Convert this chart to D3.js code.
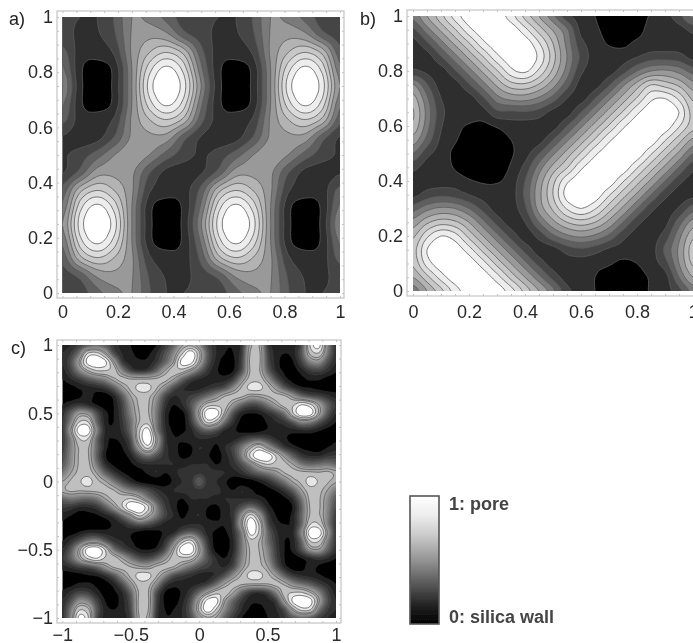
<!DOCTYPE html>
<html>
<head>
<meta charset="utf-8">
<script src="https://cdn.jsdelivr.net/npm/d3@7"></script>
<style>
body { margin: 0; background: #fff; }
svg { display: block; font-family: "Liberation Sans", Arial, sans-serif; }
.tick text { fill: #2a2a2a; font-size: 18px; }
.panelLabel { fill: #222; font-size: 18px; }
.barLabel { fill: #444; font-size: 18px; font-weight: bold; }
</style>
</head>
<body>
<script>
// Grey level at each grid node, in percent, top row first.
// a: 17 x 17 nodes, x and y from 0 to 1
var gridA = [
[20,18,18,28,45,42,33,22,20,18,18,28,45,42,33,22,20],
[22,16,17,26,46,52,47,30,22,16,17,26,46,52,47,30,22],
[30,14,13,20,47,63,72,60,30,14,13,20,47,63,72,60,30],
[38,11,5,12,45,78,94,78,38,11,5,12,45,78,94,78,38],
[45,12,3,12,45,86,100,86,45,12,3,12,45,86,100,86,45],
[38,11,5,12,45,78,94,78,38,11,5,12,45,78,94,78,38],
[30,14,13,20,47,63,72,60,30,14,13,20,47,63,72,60,30],
[17,13,15,28,47,52,50,30,17,13,15,28,47,52,50,30,17],
[17,22,32,45,52,45,32,22,17,22,32,45,52,45,32,22,17],
[17,30,50,52,47,28,15,13,17,30,50,52,47,28,15,13,17],
[30,60,72,63,47,20,13,14,30,60,72,63,47,20,13,14,30],
[38,78,94,78,45,12,5,11,38,78,94,78,45,12,5,11,38],
[45,86,100,86,45,12,3,12,45,86,100,86,45,12,3,12,45],
[38,78,94,78,45,12,5,11,38,78,94,78,45,12,5,11,38],
[30,60,72,63,47,20,13,14,30,60,72,63,47,20,13,14,30],
[22,30,47,52,46,26,17,16,22,30,47,52,46,26,17,16,22],
[20,22,33,42,45,28,18,18,20,22,33,42,45,28,18,18,20]
];

// b: 21 x 21 nodes, x and y from 0 to 1
var gridB = [
[39,55,70,86,97,99,97,86,70,55,39,21,14,9,4,3,5,10,14,24,39],
[25,41,57,72,88,97,99,97,85,69,54,38,15,11,5,4,6,12,14,14,21],
[14,25,41,57,72,88,97,99,97,83,64,42,21,14,8,7,11,13,14,14,14],
[14,14,26,41,57,72,88,97,99,89,68,45,25,14,14,14,18,23,23,22,15],
[20,16,14,26,41,57,72,88,93,80,62,41,20,14,14,23,36,45,47,42,32],
[46,28,14,14,26,41,57,69,71,63,49,31,14,14,26,43,59,73,69,62,49],
[59,38,18,14,14,25,41,48,49,43,32,18,14,27,43,59,74,89,91,80,62],
[65,42,21,14,14,14,25,25,26,23,15,14,27,43,59,74,89,97,99,91,69],
[62,40,19,12,8,7,10,14,14,14,14,27,43,59,74,89,97,99,97,83,68],
[51,33,16,10,5,4,5,9,13,14,27,43,59,74,89,97,99,97,83,68,53],
[36,21,14,7,4,3,4,8,14,27,43,59,74,89,97,99,97,83,68,53,36],
[21,14,14,8,4,3,5,10,21,40,58,72,89,97,99,97,83,68,53,36,21],
[14,14,14,14,10,8,8,13,27,49,70,89,97,99,97,83,68,53,36,21,14],
[15,22,25,23,18,14,14,14,29,52,73,95,99,97,83,68,53,36,21,14,15],
[32,42,47,45,36,24,14,14,25,49,66,83,91,83,68,53,36,21,14,19,32],
[49,62,69,66,55,39,24,14,18,36,52,64,69,64,52,36,21,14,15,32,49],
[62,80,91,86,70,55,39,24,14,21,34,43,47,43,34,21,14,14,22,42,62],
[69,91,99,97,86,70,55,39,24,14,14,22,25,22,16,14,14,14,29,47,69],
[66,86,97,99,97,86,70,55,39,24,14,14,14,12,10,7,9,14,23,45,66],
[55,70,86,97,99,97,86,70,55,39,24,14,13,9,5,4,6,10,14,36,55],
[39,55,70,86,97,99,97,86,70,55,39,21,14,9,4,3,5,10,14,24,39]
];

// c: 33 x 33 nodes, x and y from -1 to 1
var gridC = [
[8,10,16,25,30,25,14,8,5,3,2,5,14,28,48,55,42,20,10,6,6,14,55,58,16,8,6,8,22,75,92,40,12],
[10,16,35,74,78,55,22,10,6,4,4,10,22,40,70,98,62,25,10,5,5,16,60,62,20,8,5,8,25,62,70,35,12],
[10,22,52,92,100,90,52,16,8,6,7,14,28,50,92,92,55,22,8,3,4,18,62,62,22,8,3,5,18,38,42,22,10],
[8,18,38,58,72,72,66,38,18,12,15,28,50,66,66,50,30,14,6,3,5,22,60,60,28,10,4,3,8,16,18,12,6],
[5,10,16,25,32,40,55,62,58,58,58,60,62,50,30,16,10,8,8,8,16,42,64,66,45,22,8,3,4,6,6,3,2],
[2,3,6,8,10,14,26,46,62,78,78,60,42,22,12,8,8,12,16,22,40,60,78,78,62,44,24,12,6,5,3,2,2],
[2,2,4,8,3,2,8,25,50,62,62,45,20,10,12,16,22,32,44,58,62,60,50,52,58,62,60,45,30,22,18,12,8],
[5,10,14,10,5,2,5,18,42,60,60,38,14,5,10,22,42,65,68,64,45,28,20,22,34,50,65,70,85,75,50,28,14],
[12,28,48,45,22,7,5,16,38,58,60,35,10,3,3,18,55,98,95,55,22,8,5,6,12,20,35,72,100,94,55,25,10],
[14,38,72,72,30,8,5,14,32,58,66,35,10,2,2,14,42,78,65,32,12,3,1,2,6,10,14,26,42,38,24,12,5],
[14,50,95,96,42,10,6,12,30,70,92,38,12,4,4,8,20,28,22,10,6,3,1,3,6,8,8,8,10,10,6,3,3],
[14,38,72,72,30,8,5,8,22,70,100,55,14,6,6,8,10,10,8,6,8,14,22,24,18,10,6,3,2,1,1,2,4],
[16,38,60,60,30,8,3,5,16,50,78,45,14,8,3,4,10,8,4,10,18,35,55,74,50,30,14,8,4,3,2,5,8],
[20,40,60,60,28,6,2,3,8,22,32,22,12,8,4,5,10,6,2,8,16,38,76,100,98,70,45,26,14,10,10,14,16],
[25,42,60,62,35,12,4,2,4,8,10,10,10,10,8,10,10,10,5,8,12,22,38,60,72,66,62,50,35,30,32,35,30],
[35,50,62,65,50,28,14,6,3,3,6,10,5,8,12,12,14,12,12,10,8,12,20,28,35,45,58,62,62,62,60,62,55],
[50,60,70,80,62,52,35,20,10,4,2,2,2,6,10,12,26,12,10,6,2,2,2,6,12,22,35,52,62,80,70,60,52],
[55,62,60,62,62,62,58,45,35,28,20,12,8,10,12,12,14,12,12,8,5,10,6,3,3,6,14,28,50,65,62,50,35],
[30,35,32,30,35,50,62,66,72,60,38,22,12,8,5,10,10,10,8,10,10,10,10,8,4,2,4,12,35,62,60,42,25],
[16,14,10,10,14,26,45,70,98,100,76,38,16,8,2,6,10,5,4,8,12,22,32,22,8,3,2,6,28,60,60,40,20],
[8,5,2,3,4,8,14,30,50,74,55,35,18,10,4,8,10,4,3,8,14,45,78,50,16,5,3,8,30,60,60,38,16],
[4,2,1,1,2,3,6,10,18,24,22,14,8,6,8,10,10,8,6,6,14,55,100,70,22,8,5,8,30,72,72,38,14],
[3,3,6,10,10,8,8,8,6,3,1,3,6,10,22,28,20,8,4,4,12,38,92,70,30,12,6,10,42,96,95,50,14],
[5,12,24,38,42,26,14,10,6,2,1,3,12,32,65,78,42,14,2,2,10,35,66,58,32,14,5,8,30,72,72,38,14],
[10,25,55,94,100,72,35,20,12,6,5,8,22,55,95,98,55,18,3,3,10,35,60,58,38,16,5,7,22,45,48,28,12],
[14,28,50,75,85,70,65,50,34,22,20,28,45,64,68,65,42,22,10,5,14,38,60,60,42,18,5,2,5,10,14,10,5],
[8,12,18,22,30,45,60,62,58,52,50,60,62,58,44,32,22,16,12,10,20,45,62,62,50,25,8,2,3,8,4,2,2],
[2,2,3,5,6,12,24,44,62,78,78,60,40,22,16,12,8,8,12,22,42,60,78,78,62,46,26,14,10,8,6,3,2],
[2,3,6,6,4,3,8,22,45,66,64,42,16,8,8,8,10,16,30,50,62,60,58,58,58,62,55,40,32,25,16,10,5],
[6,12,18,16,8,3,4,10,28,60,60,22,5,3,6,14,30,50,66,66,50,28,15,12,18,38,66,72,72,58,38,18,8],
[10,22,42,38,18,5,3,8,22,62,62,18,4,3,8,22,55,92,92,50,28,14,7,6,8,16,52,90,100,92,52,22,10],
[12,35,70,62,25,8,5,8,20,62,60,16,5,5,10,25,62,98,70,40,22,10,4,4,6,10,22,55,78,74,35,16,10],
[12,40,92,75,22,8,6,8,16,58,55,14,6,6,10,20,42,55,48,28,14,5,2,3,5,8,14,25,30,25,16,10,8]
];

var ticksUnit = [0, 0.2, 0.4, 0.6, 0.8, 1];
var minorUnit = d3.range(0, 1.0001, 0.05);
var ticksWide = [-1, -0.5, 0, 0.5, 1];
var minorWide = d3.range(-1, 1.0001, 0.1);

// contour levels (percent) and the grey above each of them
var levelsAB = [9, 18, 27, 36, 45, 55, 64, 73, 82, 91];
var greysAB = [0.18, 0.27, 0.37, 0.48, 0.6, 0.7, 0.78, 0.86, 0.93, 1];
var levelsC = [5, 10, 15, 20, 25, 30, 35, 40, 45, 50, 58, 72, 85];
var greysC = [0.13, 0.2, 0.26, 0.32, 0.38, 0.44, 0.5, 0.56, 0.62, 0.68, 0.75, 0.9, 1];
var linedC = [50, 58, 72, 85];

var barStops = [0, 0.15, 0.3, 0.5, 0.7, 0.85, 1];
var barGreys = [1, 0.93, 0.8, 0.58, 0.33, 0.14, 0];

var width = 693, height = 643;
var refineBy = 4;

var svg = d3.select("body").append("svg")
    .attr("width", width)
    .attr("height", height);

var defs = svg.append("defs");
defs.append("filter").attr("id", "soft")
    .append("feGaussianBlur").attr("stdDeviation", 0.45);

function grey(v) {
    return d3.rgb(v * 255, v * 255, v * 255).formatHex();
}

// the contour surface between nodes, so the level lines come out round
function cubic(a, b, c, d, t) {
    return b + 0.5 * t * (c - a + t * (2 * a - 5 * b + 4 * c - d + t * (3 * (b - c) + d - a)));
}

function refine(grid, k) {
    var n = grid.length, m = (n - 1) * k + 1, out = [];
    function at(r, c) {
        return grid[Math.max(0, Math.min(n - 1, r))][Math.max(0, Math.min(n - 1, c))];
    }
    for (var i = 0; i < m; i++) {
        var r = Math.floor(i / k), tr = i / k - r;
        for (var j = 0; j < m; j++) {
            var c = Math.floor(j / k), tc = j / k - c, col = [];
            for (var q = -1; q <= 2; q++) {
                col.push(cubic(at(r + q, c - 1), at(r + q, c), at(r + q, c + 1), at(r + q, c + 2), tc));
            }
            out.push(cubic(col[0], col[1], col[2], col[3], tr));
        }
    }
    return { values: out, size: m };
}

function drawPanel(id, grid, conf) {
    var fine = refine(grid, refineBy);
    var n = fine.size;
    // node i sits at contour coordinate i + 0.5
    var px = d3.scaleLinear().domain([0.5, n - 0.5]).range([conf.left, conf.right]);
    var py = d3.scaleLinear().domain([0.5, n - 0.5]).range([conf.top, conf.bottom]);
    var x = d3.scaleLinear().domain(conf.domain).range([conf.left, conf.right]);
    var y = d3.scaleLinear().domain(conf.domain).range([conf.bottom, conf.top]);

    var line = d3.line()
        .x(function (d) { return px(d[0]); })
        .y(function (d) { return py(d[1]); })
        .curve(d3.curveBasisClosed);

    defs.append("clipPath").attr("id", "clip" + id)
        .append("rect")
        .attr("x", conf.left).attr("y", conf.top)
        .attr("width", conf.right - conf.left)
        .attr("height", conf.bottom - conf.top);

    var g = svg.append("g").attr("filter", "url(#soft)");
    var plot = g.append("g").attr("clip-path", "url(#clip" + id + ")");

    plot.append("rect")
        .attr("x", conf.left).attr("y", conf.top)
        .attr("width", conf.right - conf.left)
        .attr("height", conf.bottom - conf.top)
        .attr("fill", "#000");

    var contours = d3.contours().size([n, n]).thresholds(conf.levels)(fine.values);
    contours.forEach(function (c, i) {
        var d = "";
        c.coordinates.forEach(function (poly) {
            poly.forEach(function (ring) { d += line(ring.slice(0, -1)); });
        });
        plot.append("path")
            .attr("d", d)
            .attr("fill", grey(conf.greys[i]))
            .attr("fill-rule", "evenodd")
            .attr("stroke", conf.lined.indexOf(c.value) >= 0 ? "#5a5a5a" : "none")
            .attr("stroke-width", 0.8);
    });

    // light outer frame with its small ticks
    g.append("rect")
        .attr("x", conf.frame[0]).attr("y", conf.frame[1])
        .attr("width", conf.frame[2] - conf.frame[0])
        .attr("height", conf.frame[3] - conf.frame[1])
        .attr("fill", "none")
        .attr("stroke", "#c4c4c4")
        .attr("stroke-width", 1.2);

    function frameAxis(axis, tx, ty) {
        var a = g.append("g")
            .attr("transform", "translate(" + tx + "," + ty + ")")
            .call(axis.tickValues(conf.minor).tickSize(2).tickFormat(""));
        a.select(".domain").remove();
        a.selectAll("line").attr("stroke", "#c4c4c4");
    }
    frameAxis(d3.axisTop(x), 0, conf.frame[3]);
    frameAxis(d3.axisBottom(x), 0, conf.frame[1]);
    frameAxis(d3.axisRight(y), conf.frame[0], 0);
    frameAxis(d3.axisLeft(y), conf.frame[2], 0);

    var fmt = d3.format("~g");
    var xAxis = g.append("g")
        .attr("transform", "translate(0," + conf.xLabelY + ")")
        .call(d3.axisBottom(x).tickValues(conf.ticks).tickSize(0).tickPadding(0).tickFormat(fmt));
    xAxis.select(".domain").remove();
    var yAxis = g.append("g")
        .attr("transform", "translate(" + conf.yLabelX + ",0)")
        .call(d3.axisLeft(y).tickValues(conf.ticks).tickSize(0).tickPadding(0).tickFormat(fmt));
    yAxis.select(".domain").remove();
    xAxis.attr("font-family", null).attr("font-size", null);
    yAxis.attr("font-family", null).attr("font-size", null);

    g.append("text")
        .attr("class", "panelLabel")
        .attr("x", conf.label[0]).attr("y", conf.label[1])
        .text(id + ")");
}

drawPanel("a", gridA, {
    left: 62.5, right: 340, top: 17, bottom: 293,
    frame: [57, 11, 344, 298], xLabelY: 305, yLabelX: 53, label: [9, 25],
    domain: [0, 1], ticks: ticksUnit, minor: minorUnit,
    levels: levelsAB, greys: greysAB, lined: levelsAB
});
drawPanel("b", gridB, {
    left: 413, right: 693, top: 16, bottom: 291,
    frame: [407, 10, 700, 296], xLabelY: 305, yLabelX: 403, label: [360, 25],
    domain: [0, 1], ticks: ticksUnit, minor: minorUnit,
    levels: levelsAB, greys: greysAB, lined: levelsAB
});
drawPanel("c", gridC, {
    left: 62.3, right: 336, top: 345, bottom: 618,
    frame: [57, 340, 341, 623], xLabelY: 628.5, yLabelX: 53, label: [11, 354],
    domain: [-1, 1], ticks: ticksWide, minor: minorWide,
    levels: levelsC, greys: greysC, lined: linedC
});

// grey bar legend
var grad = defs.append("linearGradient").attr("id", "barFill")
    .attr("x1", 0).attr("y1", 0).attr("x2", 0).attr("y2", 1);
barStops.forEach(function (s, i) {
    grad.append("stop").attr("offset", s).attr("stop-color", grey(barGreys[i]));
});

var bar = svg.append("g").attr("filter", "url(#soft)");
bar.append("rect")
    .attr("x", 410).attr("y", 496)
    .attr("width", 29).attr("height", 128)
    .attr("fill", "url(#barFill)")
    .attr("stroke", "#555")
    .attr("stroke-width", 1.6);
bar.append("text").attr("class", "barLabel").attr("x", 449).attr("y", 510).text("1: pore");
bar.append("text").attr("class", "barLabel").attr("x", 449).attr("y", 623).text("0: silica wall");
</script>
</body>
</html>
